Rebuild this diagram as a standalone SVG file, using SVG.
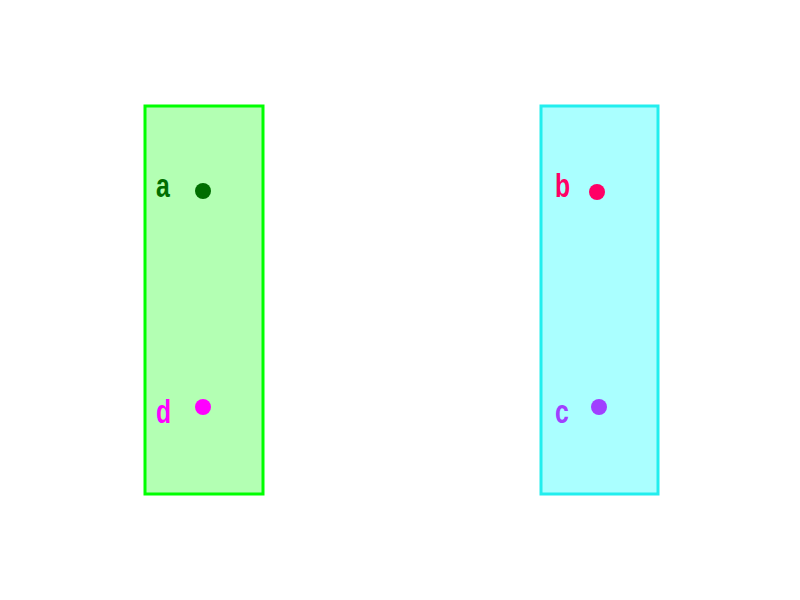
<svg xmlns="http://www.w3.org/2000/svg" width="800" height="600" viewBox="0 0 800 600">
<style>
.lbl{font-family:"Liberation Sans",Arial,sans-serif;font-weight:bold;font-size:33px}
</style>
<rect width="800" height="600" fill="#ffffff"/>
<g id="cluster1">
<rect x="145" y="106" width="118" height="388" fill="#b3ffb3" stroke="#00ff00" stroke-width="3"/>
</g>
<g id="cluster2">
<rect x="541" y="106" width="117" height="388" fill="#aaffff" stroke="#22eeee" stroke-width="3"/>
</g>
<g id="node-a">
<text class="lbl" transform="translate(156,197) scale(0.75,1)" fill="#006e00">a</text>
<circle cx="203" cy="191" r="8" fill="#006e00"/>
</g>
<g id="node-b">
<text class="lbl" transform="translate(555,197) scale(0.75,1)" fill="#ff0066">b</text>
<circle cx="597" cy="192" r="8" fill="#ff0066"/>
</g>
<g id="node-d">
<text class="lbl" transform="translate(156,423) scale(0.75,1)" fill="#ff00ff">d</text>
<circle cx="203" cy="407" r="8" fill="#ff00ff"/>
</g>
<g id="node-c">
<text class="lbl" transform="translate(555,423) scale(0.75,1)" fill="#a040ff">c</text>
<circle cx="599" cy="407" r="8" fill="#a040ff"/>
</g>
<g id="connectors"></g>
</svg>
